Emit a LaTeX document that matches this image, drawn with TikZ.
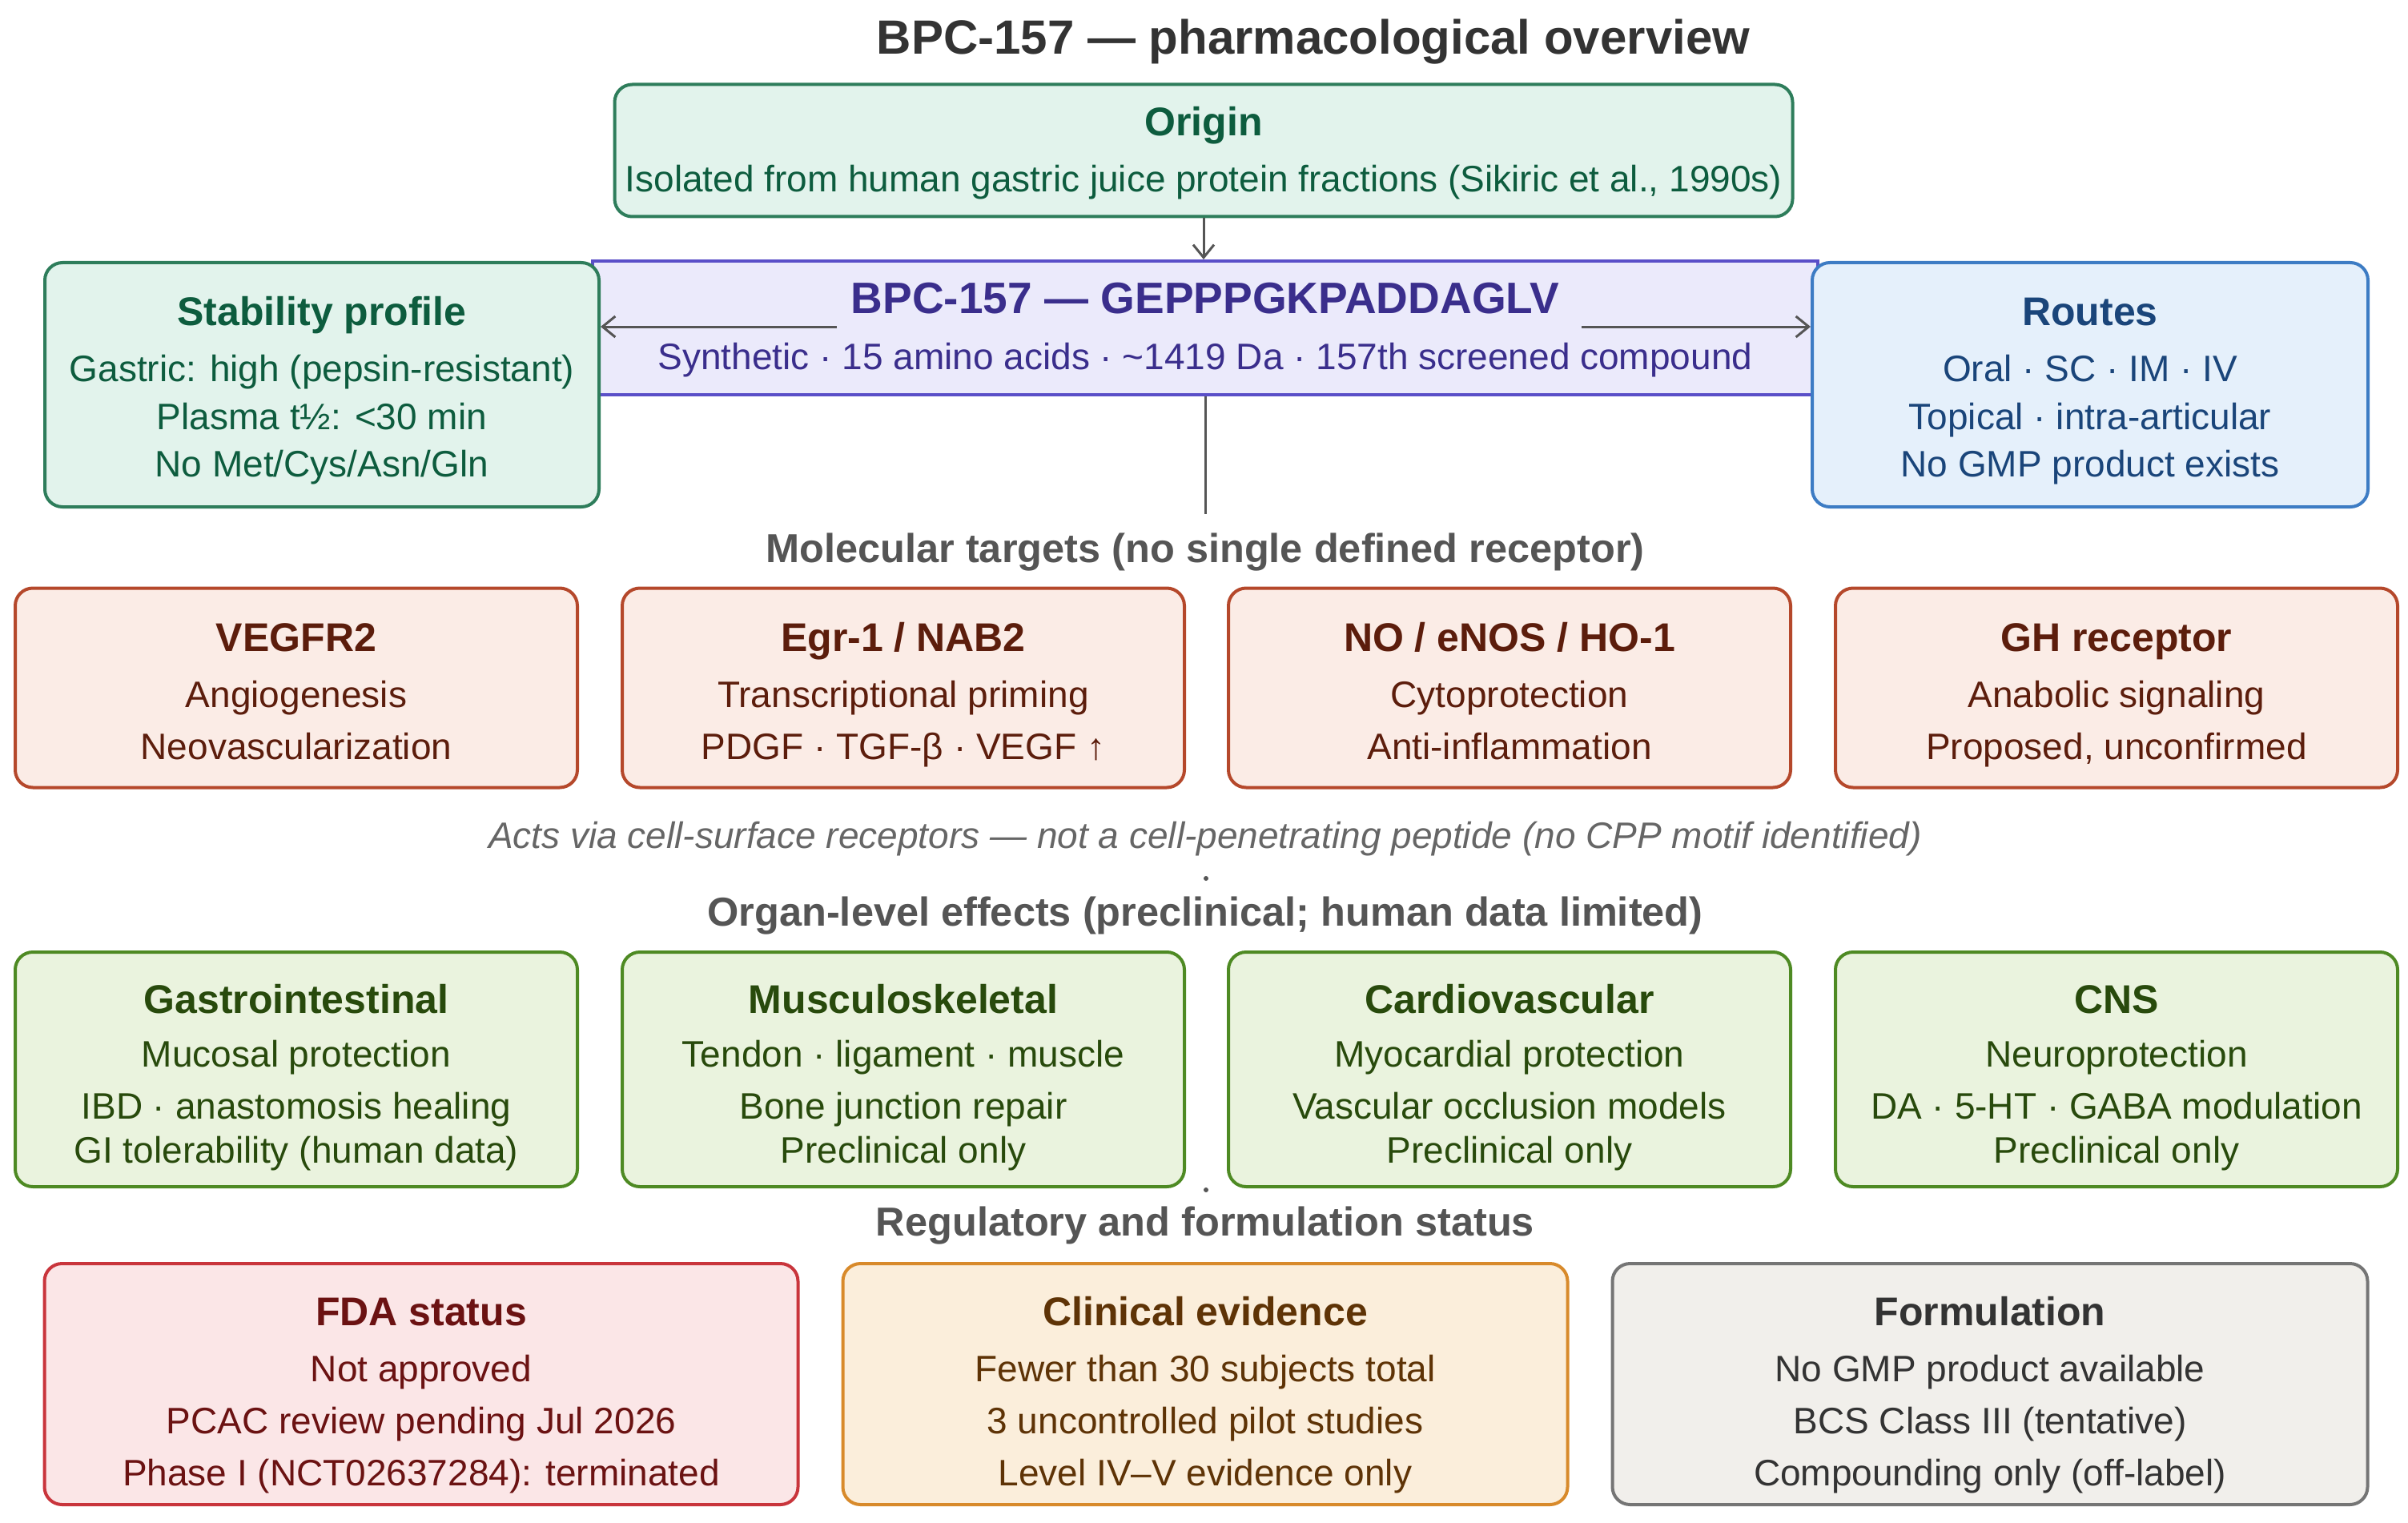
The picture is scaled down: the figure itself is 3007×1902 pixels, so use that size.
\documentclass[tikz,border=0pt]{standalone}
\usepackage{fontspec}
\setmainfont{Liberation Sans}
\usetikzlibrary{arrows.meta}
\definecolor{mintF}{HTML}{E2F3EC}\definecolor{mintD}{HTML}{2E7D5B}\definecolor{mintT}{HTML}{0D5C3E}
\definecolor{lavF}{HTML}{EBEAFB}\definecolor{lavD}{HTML}{5A4FC8}\definecolor{lavT}{HTML}{3A2E8C}
\definecolor{bluF}{HTML}{E5F0FB}\definecolor{bluD}{HTML}{3D7CC4}\definecolor{bluT}{HTML}{1A457A}
\definecolor{tgtF}{HTML}{FBECE6}\definecolor{tgtD}{HTML}{B5482B}\definecolor{tgtT}{HTML}{5C1D0C}
\definecolor{orgF}{HTML}{EAF3DE}\definecolor{orgD}{HTML}{4E8A23}\definecolor{orgT}{HTML}{284A0C}
\definecolor{fdaF}{HTML}{FBE6E7}\definecolor{fdaD}{HTML}{C9353C}\definecolor{fdaT}{HTML}{6B1212}
\definecolor{cliF}{HTML}{FBEEDB}\definecolor{cliD}{HTML}{D88A2B}\definecolor{cliT}{HTML}{5E3306}
\definecolor{forF}{HTML}{F1EFEB}\definecolor{forD}{HTML}{757575}\definecolor{forT}{HTML}{333333}
\definecolor{connC}{HTML}{555555}\definecolor{headC}{HTML}{555555}\definecolor{noteC}{HTML}{666666}
\newcommand\fTitle{\fontsize{60}{72}\selectfont\bfseries}
\newcommand\fHead{\fontsize{50.5}{60}\selectfont\bfseries}
\newcommand\fBT{\fontsize{50}{60}\selectfont\bfseries}
\newcommand\fBody{\fontsize{46}{56}\selectfont}
\newcommand\fBPC{\fontsize{55}{66}\selectfont\bfseries}
\tikzset{
  box/.style={rounded corners=22pt, line width=4pt, inner sep=0pt},
  txt/.style={inner sep=0pt, anchor=base},
  bt/.style={txt, font=\fBT},
  bl/.style={txt, font=\fBody},
  conn/.style={draw=connC, line width=3pt},
  arr/.style={conn, -{Straight Barb[length=16pt,width=26pt,line width=3pt]}},
}
\newcommand\tl[4]{\node[#1] (#2) at #3 {#4};}
\begin{document}
\begin{tikzpicture}[x=1pt,y=-1pt]
\path[use as bounding box, fill=white] (0,0) rectangle (3007,1902);
% title
\tl{txt,font=\fTitle,text=forT}{title}{(1640,68)}{BPC-157 — pharmacological overview}
% origin
\node[box, draw=mintD, fill=mintF, minimum width=1471, minimum height=165] (origin) at (1503,188) {};
\tl{bt,text=mintT}{origin-t}{(1503,170)}{Origin}
\tl{bl,text=mintT}{origin-a}{(1503,240)}{Isolated from human gastric juice protein fractions (Sikiric et al., 1990s)}
% BPC band
\node[draw=lavD, fill=lavF, line width=4pt, inner sep=0pt, minimum width=1530, minimum height=167] (bpc) at (1505,409.5) {};
\tl{txt,font=\fBPC,text=lavT}{bpc-t}{(1505,391)}{BPC-157 — GEPPPGKPADDAGLV}
\tl{bl,text=lavT}{bpc-a}{(1505,461)}{Synthetic · 15 amino acids · \textasciitilde1419 Da · 157th screened compound}
% stability
\node[box, draw=mintD, fill=mintF, minimum width=692, minimum height=305] (stab) at (402,480.5) {};
\tl{bt,text=mintT}{stab-t}{(402,406)}{Stability profile}
\tl{bl,text=mintT}{stab-a}{(402,476)}{Gastric: high (pepsin-resistant)}
\tl{bl,text=mintT}{stab-b}{(402,536)}{Plasma t½: <30 min}
\tl{bl,text=mintT}{stab-c}{(402,595)}{No Met/Cys/Asn/Gln}
% routes
\node[box, draw=bluD, fill=bluF, minimum width=694, minimum height=305] (routes) at (2610,480.5) {};
\tl{bt,text=bluT}{routes-t}{(2610,406)}{Routes}
\tl{bl,text=bluT}{routes-a}{(2610,476)}{Oral · SC · IM · IV}
\tl{bl,text=bluT}{routes-b}{(2610,536)}{Topical · intra-articular}
\tl{bl,text=bluT}{routes-c}{(2610,595)}{No GMP product exists}
% connectors top
\draw[arr] (origin.south) -- (origin.south |- bpc.north);
\coordinate (la) at (1045,408);
\coordinate (ra) at (1975,408);
\draw[arr] (la) -- (la -| stab.east);
\draw[arr] (ra) -- (ra -| routes.west);
\coordinate (vend) at (1505,642);
\draw[conn] (bpc.south) -- (vend);
% heading 1
\tl{txt,font=\fHead,text=headC}{h1}{(1505,702)}{Molecular targets (no single defined receptor)}
% targets
\node[box, draw=tgtD, fill=tgtF, minimum width=702, minimum height=249] (tA) at (370,859) {};
\node[box, draw=tgtD, fill=tgtF, minimum width=702, minimum height=249] (tB) at (1128,859) {};
\node[box, draw=tgtD, fill=tgtF, minimum width=702, minimum height=249] (tC) at (1885,859) {};
\node[box, draw=tgtD, fill=tgtF, minimum width=702, minimum height=249] (tD) at (2643,859) {};
\tl{bt,text=tgtT}{tA-t}{(370,813)}{VEGFR2}
\tl{bl,text=tgtT}{tA-a}{(370,883)}{Angiogenesis}
\tl{bl,text=tgtT}{tA-b}{(370,948)}{Neovascularization}
\tl{bt,text=tgtT}{tB-t}{(1128,813)}{Egr-1 / NAB2}
\tl{bl,text=tgtT}{tB-a}{(1128,883)}{Transcriptional priming}
\tl{bl,text=tgtT}{tB-b}{(1128,948)}{PDGF · TGF-β · VEGF ↑}
\tl{bt,text=tgtT}{tC-t}{(1885,813)}{NO / eNOS / HO-1}
\tl{bl,text=tgtT}{tC-a}{(1885,883)}{Cytoprotection}
\tl{bl,text=tgtT}{tC-b}{(1885,948)}{Anti-inflammation}
\tl{bt,text=tgtT}{tD-t}{(2643,813)}{GH receptor}
\tl{bl,text=tgtT}{tD-a}{(2643,883)}{Anabolic signaling}
\tl{bl,text=tgtT}{tD-b}{(2643,948)}{Proposed, unconfirmed}
% note
\tl{bl,font=\fBody\itshape,text=noteC}{note}{(1505,1059)}{Acts via cell-surface receptors — not a cell-penetrating peptide (no CPP motif identified)}
\fill[connC] (1506,1097) circle (3);
% heading 2
\tl{txt,font=\fHead,text=headC}{h2}{(1505,1156)}{Organ-level effects (preclinical; human data limited)}
% organs
\node[box, draw=orgD, fill=orgF, minimum width=702, minimum height=293] (oA) at (370,1335.5) {};
\node[box, draw=orgD, fill=orgF, minimum width=702, minimum height=293] (oB) at (1128,1335.5) {};
\node[box, draw=orgD, fill=orgF, minimum width=702, minimum height=293] (oC) at (1885,1335.5) {};
\node[box, draw=orgD, fill=orgF, minimum width=702, minimum height=293] (oD) at (2643,1335.5) {};
\tl{bt,text=orgT}{oA-t}{(370,1265)}{Gastrointestinal}
\tl{bl,text=orgT}{oA-a}{(370,1332)}{Mucosal protection}
\tl{bl,text=orgT}{oA-b}{(370,1397)}{IBD · anastomosis healing}
\tl{bl,text=orgT}{oA-c}{(370,1452)}{GI tolerability (human data)}
\tl{bt,text=orgT}{oB-t}{(1128,1265)}{Musculoskeletal}
\tl{bl,text=orgT}{oB-a}{(1128,1332)}{Tendon · ligament · muscle}
\tl{bl,text=orgT}{oB-b}{(1128,1397)}{Bone junction repair}
\tl{bl,text=orgT}{oB-c}{(1128,1452)}{Preclinical only}
\tl{bt,text=orgT}{oC-t}{(1885,1265)}{Cardiovascular}
\tl{bl,text=orgT}{oC-a}{(1885,1332)}{Myocardial protection}
\tl{bl,text=orgT}{oC-b}{(1885,1397)}{Vascular occlusion models}
\tl{bl,text=orgT}{oC-c}{(1885,1452)}{Preclinical only}
\tl{bt,text=orgT}{oD-t}{(2643,1265)}{CNS}
\tl{bl,text=orgT}{oD-a}{(2643,1332)}{Neuroprotection}
\tl{bl,text=orgT}{oD-b}{(2643,1397)}{DA · 5-HT · GABA modulation}
\tl{bl,text=orgT}{oD-c}{(2643,1452)}{Preclinical only}
\fill[connC] (1506,1486) circle (3);
% heading 3
\tl{txt,font=\fHead,text=headC}{h3}{(1505,1543)}{Regulatory and formulation status}
% bottom
\node[box, draw=fdaD, fill=fdaF, minimum width=941, minimum height=301] (fda) at (526,1728.5) {};
\node[box, draw=cliD, fill=cliF, minimum width=905, minimum height=301] (cli) at (1505,1728.5) {};
\node[box, draw=forD, fill=forF, minimum width=943, minimum height=301] (form) at (2485,1728.5) {};
\tl{bt,text=fdaT}{fda-t}{(526,1655)}{FDA status}
\tl{bl,text=fdaT}{fda-a}{(526,1725)}{Not approved}
\tl{bl,text=fdaT}{fda-b}{(526,1790)}{PCAC review pending Jul 2026}
\tl{bl,text=fdaT}{fda-c}{(526,1855)}{Phase I (NCT02637284): terminated}
\tl{bt,text=cliT}{cli-t}{(1505,1655)}{Clinical evidence}
\tl{bl,text=cliT}{cli-a}{(1505,1725)}{Fewer than 30 subjects total}
\tl{bl,text=cliT}{cli-b}{(1505,1790)}{3 uncontrolled pilot studies}
\tl{bl,text=cliT}{cli-c}{(1505,1855)}{Level IV–V evidence only}
\tl{bt,text=forT}{form-t}{(2485,1655)}{Formulation}
\tl{bl,text=forT}{form-a}{(2485,1725)}{No GMP product available}
\tl{bl,text=forT}{form-b}{(2485,1790)}{BCS Class III (tentative)}
\tl{bl,text=forT}{form-c}{(2485,1855)}{Compounding only (off-label)}
\end{tikzpicture}
\end{document}
